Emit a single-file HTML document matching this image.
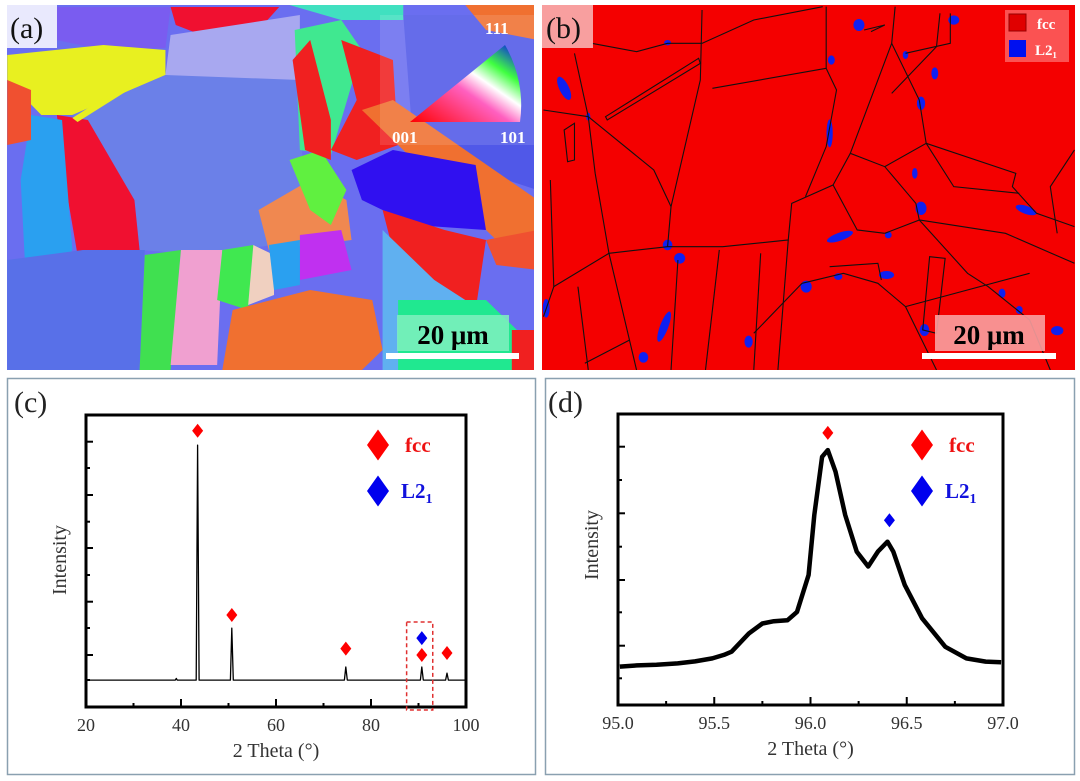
<!DOCTYPE html>
<html><head><meta charset="utf-8"><style>
html,body{margin:0;padding:0;background:#fff;}
svg{display:block;font-family:"Liberation Serif",serif;}
</style></head><body>
<svg width="1080" height="781" viewBox="0 0 1080 781" xmlns="http://www.w3.org/2000/svg">
<defs><clipPath id="ca"><rect x="7" y="5" width="527" height="365"/></clipPath><clipPath id="cb"><rect x="542" y="5" width="533" height="365"/></clipPath></defs>

<!-- Panel a -->
<g clip-path="url(#ca)">
<rect x="7" y="5" width="527" height="365" fill="#6a6ef0"/>
<g transform="scale(1.034,1)">
<polygon fill="#7a5cf0" points="55,7 165,7 160,48 100,50 55,40"/>
<polygon fill="#e8f020" points="7,55 100,45 160,50 160,75 70,115 40,115 7,80"/>
<polygon fill="#f01030" points="165,7 270,7 250,30 195,35 170,25"/>
<polygon fill="#a8a8f0" points="165,35 290,15 290,80 180,90 160,75"/>
<polygon fill="#6b80e8" points="70,115 160,75 290,80 295,240 200,255 135,250 130,200 85,125"/>
<polygon fill="#f01030" points="55,115 85,120 130,200 135,250 75,255 65,195"/>
<polygon fill="#2aa0f0" points="30,115 60,120 70,250 45,290 25,280 20,180"/>
<polygon fill="#f05030" points="7,80 30,90 30,140 7,145"/>
<polygon fill="#5870e8" points="7,260 80,250 140,250 135,370 7,370"/>
<polygon fill="#40e050" points="140,255 175,250 165,370 135,370"/>
<polygon fill="#f0a0d0" points="175,250 215,250 210,365 165,365"/>
<polygon fill="#40e850" points="215,250 245,245 240,310 210,300"/>
<polygon fill="#f0d0c0" points="245,245 265,255 265,295 240,305"/>
<polygon fill="#f07030" points="225,310 300,290 360,300 370,350 350,370 215,370"/>
<polygon fill="#f08850" points="250,210 300,180 335,200 340,240 300,245 260,250"/>
<polygon fill="#60f040" points="280,160 310,150 335,190 320,225 300,210"/>
<polygon fill="#40e890" points="285,30 330,20 350,50 320,155 290,150"/>
<polygon fill="#40e0c0" points="280,5 390,5 390,20 330,20"/>
<polygon fill="#f02020" points="283,60 300,40 320,120 320,160 295,150"/>
<polygon fill="#5058e8" points="390,15 520,15 520,190 400,150"/>
<polygon fill="#f02020" points="330,40 380,60 385,145 345,160 320,150 345,100"/>
<polygon fill="#f07030" points="350,110 380,100 520,200 520,240 480,240"/>
<polygon fill="#3010f0" points="340,170 380,150 460,165 470,230 400,225 350,200"/>
<polygon fill="#f02020" points="370,210 430,230 470,240 460,310 420,280 380,250"/>
<polygon fill="#60b0f0" points="370,230 420,280 450,300 440,370 370,370"/>
<polygon fill="#c030f0" points="290,235 330,230 340,270 290,280"/>
<polygon fill="#2aa0f0" points="260,245 290,240 290,285 265,290"/>
<polygon fill="#f07030" points="450,5 520,5 520,40 470,30"/>
<polygon fill="#20e890" points="385,300 470,300 500,330 500,370 385,370"/>
<polygon fill="#f02020" points="495,330 520,330 520,370 495,370"/>
<polygon fill="#f05030" points="470,240 520,230 520,270 480,265"/>
<polygon fill="#e8f020" points="70,118 155,62 158,68 75,122"/>
</g>
<rect x="380" y="15" width="154" height="130" fill="#ffffff" opacity="0.12"/>
<path d="M410,122 L520,122 A120,120 0 0 0 505,45 Z" fill="url(#ipfg)"/>
<defs><linearGradient id="ipfg" x1="0" y1="1" x2="1" y2="0"><stop offset="0" stop-color="#ff0000"/><stop offset="0.45" stop-color="#ff60c0"/><stop offset="0.6" stop-color="#ffffff"/><stop offset="0.75" stop-color="#40ff40"/><stop offset="1" stop-color="#0000ff"/></linearGradient></defs>
<text x="485" y="34" fill="#fff" font-size="17" font-weight="bold">111</text>
<text x="392" y="143" fill="#fff" font-size="17" font-weight="bold">001</text>
<text x="500" y="143" fill="#fff" font-size="17" font-weight="bold">101</text>
<rect x="7" y="5" width="50" height="43" fill="#fff" opacity="0.85"/>
<text x="10" y="38" font-size="30" fill="#111">(a)</text>
<rect x="397" y="315" width="112" height="36" fill="#80f0c0" opacity="0.85"/>
<text x="453" y="344" text-anchor="middle" font-size="27" font-weight="bold" fill="#000">20 μm</text>
<rect x="386" y="353" width="133" height="6" fill="#fff"/>
</g>

<!-- Panel b -->
<g clip-path="url(#cb)">
<rect x="542" y="5" width="533" height="365" fill="#f40000"/>
<g transform="translate(540,0) scale(0.3448,0.3333)" fill="#1020f0">
<ellipse cx="70" cy="265" rx="14" ry="38" transform="rotate(-25 70 265)"/>
<ellipse cx="925" cy="75" rx="16" ry="18"/>
<ellipse cx="370" cy="735" rx="14" ry="16"/>
<ellipse cx="405" cy="775" rx="16" ry="16"/>
<ellipse cx="870" cy="710" rx="40" ry="12" transform="rotate(-20 870 710)"/>
<ellipse cx="1105" cy="625" rx="16" ry="20"/>
<ellipse cx="1410" cy="630" rx="32" ry="12" transform="rotate(20 1410 630)"/>
<ellipse cx="772" cy="860" rx="16" ry="18"/>
<ellipse cx="1005" cy="825" rx="22" ry="12"/>
<ellipse cx="840" cy="400" rx="9" ry="42"/>
<ellipse cx="1105" cy="310" rx="12" ry="20"/>
<ellipse cx="360" cy="980" rx="12" ry="48" transform="rotate(20 360 980)"/>
<ellipse cx="300" cy="1072" rx="14" ry="16"/>
<ellipse cx="605" cy="1025" rx="12" ry="18"/>
<ellipse cx="1115" cy="990" rx="14" ry="18"/>
<ellipse cx="1500" cy="992" rx="18" ry="14"/>
<ellipse cx="1200" cy="60" rx="16" ry="14"/>
<ellipse cx="1145" cy="220" rx="10" ry="18"/>
<ellipse cx="18" cy="925" rx="10" ry="28"/>
<ellipse cx="1340" cy="880" rx="10" ry="14"/>
<ellipse cx="1087" cy="520" rx="8" ry="16"/>
<ellipse cx="140" cy="350" rx="6" ry="12"/>
<ellipse cx="845" cy="180" rx="10" ry="14"/>
<ellipse cx="370" cy="128" rx="10" ry="8"/>
<ellipse cx="1060" cy="165" rx="8" ry="12"/>
<ellipse cx="1010" cy="705" rx="10" ry="10"/>
<ellipse cx="865" cy="830" rx="12" ry="10"/>
<ellipse cx="1390" cy="930" rx="10" ry="12"/>
</g>
<g transform="translate(540,0) scale(0.3448,0.3333)" fill="none" stroke="#111" stroke-width="1.1" vector-effect="non-scaling-stroke">
<polyline vector-effect="non-scaling-stroke" points="470,30 465,240 380,620 370,740"/>
<polyline vector-effect="non-scaling-stroke" points="500,265 830,205"/>
<polyline vector-effect="non-scaling-stroke" points="830,20 830,205 860,270 830,440 770,590"/>
<polyline vector-effect="non-scaling-stroke" points="10,330 140,350 330,510 380,620"/>
<polyline vector-effect="non-scaling-stroke" points="100,160 140,350 160,520 200,760"/>
<polyline vector-effect="non-scaling-stroke" points="150,130 280,155 370,130 470,130 620,60 820,20"/>
<polyline vector-effect="non-scaling-stroke" points="30,540 40,860 10,950"/>
<polyline vector-effect="non-scaling-stroke" points="40,860 200,760 370,740 530,740 720,720 730,610 850,555 920,690 1000,700"/>
<polyline vector-effect="non-scaling-stroke" points="200,760 280,1110"/>
<polyline vector-effect="non-scaling-stroke" points="110,860 140,1110"/>
<polyline vector-effect="non-scaling-stroke" points="400,780 380,1110"/>
<polyline vector-effect="non-scaling-stroke" points="520,750 480,1110"/>
<polyline vector-effect="non-scaling-stroke" points="640,760 620,1110"/>
<polyline vector-effect="non-scaling-stroke" points="720,720 690,1110"/>
<polyline vector-effect="non-scaling-stroke" points="760,850 620,1000"/>
<polyline vector-effect="non-scaling-stroke" points="760,850 880,820 980,850 1060,920 1150,1110"/>
<polyline vector-effect="non-scaling-stroke" points="850,555 900,460 1000,500 1090,610 1100,660 1000,700"/>
<polyline vector-effect="non-scaling-stroke" points="900,460 1020,130 1100,300 1120,430 1000,500"/>
<polyline vector-effect="non-scaling-stroke" points="1020,130 1030,20"/>
<polyline vector-effect="non-scaling-stroke" points="1120,430 1380,520 1370,560 1440,640 1550,680"/>
<polyline vector-effect="non-scaling-stroke" points="1100,660 1350,700 1550,790"/>
<polyline vector-effect="non-scaling-stroke" points="1100,660 1240,820 1300,860 1420,960 1480,1110"/>
<polyline vector-effect="non-scaling-stroke" points="1060,920 1420,820"/>
<polyline vector-effect="non-scaling-stroke" points="1190,40 1190,130 1060,160"/>
<polyline vector-effect="non-scaling-stroke" points="1020,280 1150,140 1160,40"/>
<polyline vector-effect="non-scaling-stroke" points="1120,430 1200,560 1390,580"/>
<polyline vector-effect="non-scaling-stroke" points="1550,450 1480,560 1500,700"/>
<polygon vector-effect="non-scaling-stroke" points="190,350 460,175 465,190 195,360"/>
<polygon vector-effect="non-scaling-stroke" points="1130,770 1175,775 1150,1000 1110,990"/>
<polygon vector-effect="non-scaling-stroke" points="70,390 100,370 100,480 80,485"/>
<polyline vector-effect="non-scaling-stroke" points="940,90 1000,75 960,95"/>
<polyline vector-effect="non-scaling-stroke" points="130,1090 260,1020"/>
<polyline vector-effect="non-scaling-stroke" points="840,800 980,790 990,840"/>
</g>
<rect x="542" y="5" width="51" height="43" fill="#f8b0b0" opacity="0.9"/>
<text x="546" y="38" font-size="30" fill="#111">(b)</text>
<rect x="1005" y="10" width="64" height="52" fill="#f88" opacity="0.6"/>
<rect x="1009" y="14" width="17" height="17" fill="#e00000" stroke="#900"/>
<rect x="1009" y="40" width="17" height="17" fill="#0010f0"/>
<text x="1037" y="29" fill="#fff" font-size="15" font-weight="bold">fcc</text>
<text x="1035" y="55" fill="#fff" font-size="15" font-weight="bold">L2₁</text>
<rect x="935" y="315" width="110" height="36" fill="#f8a0a0" opacity="0.9"/>
<text x="989" y="344" text-anchor="middle" font-size="27" font-weight="bold" fill="#000">20 μm</text>
<rect x="922" y="353" width="134" height="6" fill="#fff"/>
</g>

<!-- Panel frames c,d -->
<rect x="7.5" y="378.5" width="528" height="396" fill="none" stroke="#8aa0b0" stroke-width="1.5"/>
<rect x="545.5" y="378.5" width="529" height="396" fill="none" stroke="#8aa0b0" stroke-width="1.5"/>
<text x="14" y="412" font-size="30" fill="#222">(c)</text>
<text x="548" y="412" font-size="30" fill="#222">(d)</text>

<g id="chartc"></g>
<g id="chartd"></g>
</svg>
<script>
// ---- Chart c data ----
const cTheta = [20,38.8,39.0,39.2,43.2,43.5,43.8,50.4,50.7,51.0,74.4,74.7,75.0,90.4,90.7,91.0,95.7,96.0,96.3,100];
const cIntensity = [9.2,9.2,9.8,9.2,9.2,89.7,9.2,9.2,27.0,9.2,9.2,13.7,9.2,9.2,13.7,9.2,9.2,11.6,9.2,9.2];
const cXTicks = [20,40,60,80,100];
const cXMinor = [30,50,70,90];
const cMarkFcc = [[43.5,94.6],[50.7,31.5],[74.7,20.0],[90.7,17.8],[96.0,18.5]];
const cMarkL21 = [[90.7,23.6]];
// ---- Chart d data ----
const dTheta = [95.01,95.10,95.20,95.31,95.40,95.49,95.55,95.59,95.68,95.75,95.81,95.88,95.93,95.99,96.02,96.06,96.09,96.13,96.18,96.24,96.30,96.35,96.40,96.43,96.49,96.58,96.70,96.81,96.91,96.99];
const dIntensity = [13.2,13.6,13.8,14.3,15.0,16.0,17.2,18.3,24.6,28.0,28.8,29.1,32.0,44.7,65.3,85.3,87.6,80.2,65.3,52.7,47.6,52.7,56.1,52.7,41.2,29.8,20.0,16.0,14.9,14.7];
const dXTicks = [95.0,95.5,96.0,96.5,97.0];
const dXMinor = [95.25,95.75,96.25,96.75];
const dMarkFcc = [[96.09,93.5]];
const dMarkL21 = [[96.41,63.5]];

const NS='http://www.w3.org/2000/svg';
function mk(tag,attrs,parent){const e=document.createElementNS(NS,tag);for(const k in attrs)e.setAttribute(k,attrs[k]);parent.appendChild(e);return e;}
function diamond(cx,cy,w,h,color,parent){return mk('polygon',{points:`${cx},${cy-h/2} ${cx+w/2},${cy} ${cx},${cy+h/2} ${cx-w/2},${cy}`,fill:color},parent);}

function drawChart(g,o){
  const sx=v=>o.L+(v-o.x0)/(o.x1-o.x0)*(o.R-o.L);
  const sy=v=>o.B-(v/100)*(o.B-o.T);
  let d='';o.xs.forEach((x,i)=>{d+=(i?'L':'M')+sx(x).toFixed(1)+','+sy(o.ys[i]).toFixed(1);});
  const line=mk('path',{d:d,fill:'none',stroke:'#000','stroke-width':o.lw,'stroke-linejoin':'round'},g);
  
  
  const frame=mk('rect',{x:o.L,y:o.T,width:o.R-o.L,height:o.B-o.T,fill:'none',stroke:'#000','stroke-width':3},g);
  
  
  o.ticks.forEach((t,i)=>{
    const x=sx(t);
    if(i>0&&i<o.ticks.length-1){mk('line',{x1:x,x2:x,y1:o.B,y2:o.B-8,stroke:'#000','stroke-width':2},g);}
    const tl=mk('text',{x:x,y:o.B+24,'text-anchor':'middle','font-size':18,fill:'#333'},g);
    tl.textContent=o.fmt(t);
    
    
  });
  o.minor.forEach(t=>{const x=sx(t);mk('line',{x1:x,x2:x,y1:o.B,y2:o.B-4,stroke:'#000','stroke-width':2},g);});
  o.yt.forEach((y,i)=>{mk('line',{x1:o.L,x2:o.L+(i%2?4:7),y1:y,y2:y,stroke:'#000','stroke-width':2},g);});
  const xt=mk('text',{x:(o.L+o.R)/2,y:o.B+50,'text-anchor':'middle','font-size':20,fill:'#333'},g);
  xt.textContent='2 Theta (°)';
  
  
  const yt=mk('text',{x:0,y:0,'text-anchor':'middle','font-size':20,fill:'#333',transform:`translate(${o.L-20},${o.yTitleY}) rotate(-90)`},g);
  yt.textContent='Intensity';
  
  
  o.mf.forEach(m=>{const p=diamond(sx(m[0]),sy(m[1]),11,14,'#ff0000',g);});
  o.ml.forEach(m=>{const p=diamond(sx(m[0]),sy(m[1]),11,14,'#0000ee',g);});
  // legend
  const lf=diamond(o.legX,445,22,31,'#ff0000',g);
  
  
  const ll=diamond(o.legX,491,22,31,'#0000ee',g);
  
  
  const t1=mk('text',{x:o.legX+27,y:452,'font-size':21,'font-weight':'bold',fill:'#ee1111'},g);
  t1.textContent='fcc';
  
  
  const t2=mk('text',{x:o.legX+23,y:498,'font-size':21,'font-weight':'bold',fill:'#1111dd'},g);
  t2.innerHTML='L2<tspan font-size="14" dy="5">1</tspan>';
  
  
  return sx;
}
const gc=document.getElementById('chartc');
const sxc=drawChart(gc,{L:86,R:466,T:415,B:707,x0:20,x1:100,xs:cTheta,ys:cIntensity,lw:1.3,ticks:cXTicks,minor:cXMinor,fmt:v=>String(v),
  yt:[441.7,468,495,521.7,548,575,601.7,628,655,680],yTitleY:560,mf:cMarkFcc,ml:cMarkL21,legX:378});
const box=mk('rect',{x:sxc(87.5),y:622,width:sxc(93)-sxc(87.5),height:88,fill:'none',stroke:'#e03030','stroke-width':1.5,'stroke-dasharray':'4,3'},gc);


const gd=document.getElementById('chartd');
drawChart(gd,{L:618,R:1003,T:414,B:705,x0:95,x1:97,xs:dTheta,ys:dIntensity,lw:4.5,ticks:dXTicks,minor:dXMinor,fmt:v=>v.toFixed(1),
  yt:[446.7,480,513.3,546.7,580,612.3,645.7,678.3],yTitleY:545,mf:dMarkFcc,ml:dMarkL21,legX:922});
</script>
</body></html>
